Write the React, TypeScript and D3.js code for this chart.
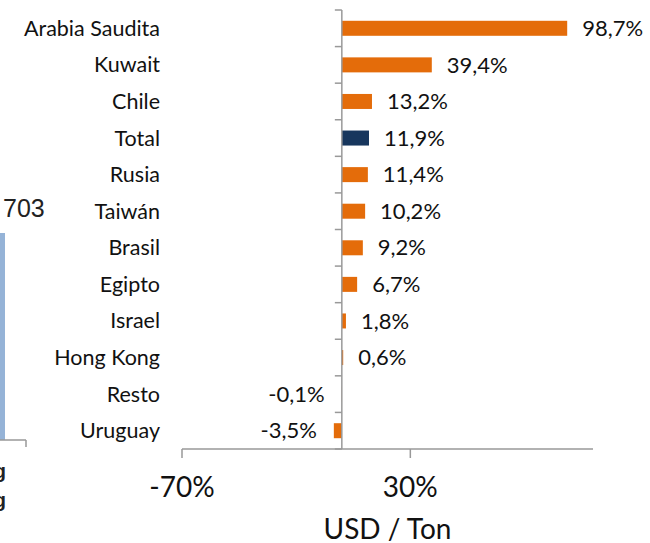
import React from "react";
import * as d3 from "d3";

const categories = ["Arabia Saudita", "Kuwait", "Chile", "Total", "Rusia", "Taiwán", "Brasil", "Egipto", "Israel", "Hong Kong", "Resto", "Uruguay"];
const values = [98.7, 39.4, 13.2, 11.9, 11.4, 10.2, 9.2, 6.7, 1.8, 0.6, -0.1, -3.5];
const highlight = ["Total"];
const xTicks = [-70, 30];
const xDomain = [-70, 110];
const axisTitle = "USD / Ton";
const fragmentLabel = "703";
const fragmentTail = ["g", "g"];

const W = 650;
const H = 543;
const FONT = "Lato, 'Open Sans', sans-serif";

export default function App() {
  const x = d3.scaleLinear().domain(xDomain).range([182, 593]);
  const y = d3.scaleBand<string>().domain(categories).range([10, 449]).padding(0);
  const step = y.step();
  const barH = step * 0.41;
  const x0 = x(0);
  const fmt = (v: number) => (v < 0 ? "-" : "") + Math.abs(v).toFixed(1).replace(".", ",") + "%";
  const axisColor = "#999999";

  return (
    <svg width={W} height={H} style={{ position: "absolute", left: 0, top: 0, background: "#fff" }}>
      {/* cropped neighbour chart fragment */}
      <text x={3} y={217} fontFamily="'Liberation Sans', sans-serif" fontSize={25} fill="#222">{fragmentLabel}</text>
      <rect x={0} y={233} width={5} height={207} fill="#95B3D7" />
      <line x1={0} x2={26} y1={440} y2={440} stroke="#999" strokeWidth={1.5} />
      <line x1={26} x2={26} y1={440} y2={447} stroke="#999" strokeWidth={1.5} />
      {fragmentTail.map((t, i) => (
        <text key={i} x={6} y={478 + i * 29} textAnchor="end" fontFamily="'Liberation Sans', sans-serif" fontWeight="bold" fontSize={20} fill="#222">{t}</text>
      ))}

      {/* bars */}
      {categories.map((c, i) => {
        const v = values[i];
        const cy = (y(c) as number) + step / 2;
        const xa = Math.min(x(v), x0);
        const w = Math.abs(x(v) - x0);
        return (
          <g key={c}>
            <rect x={xa} y={cy - barH / 2} width={w} height={barH} fill={highlight.includes(c) ? "#17365D" : "#E46C0A"} />
            <text x={v >= 0 ? x(v) + 15 : x(v) - 17} y={cy} dy="0.35em" textAnchor={v >= 0 ? "start" : "end"} fontFamily={FONT} fontSize={22} fill="#111">{fmt(v)}</text>
            <text x={160} y={cy} dy="0.35em" textAnchor="end" fontFamily={FONT} fontSize={21.5} fill="#111">{c}</text>
          </g>
        );
      })}

      {/* vertical axis */}
      <line x1={x0} x2={x0} y1={10} y2={449} stroke={axisColor} strokeWidth={1.5} />
      {d3.range(categories.length + 1).map((i) => (
        <line key={i} x1={x0 - 7} x2={x0} y1={10 + i * step} y2={10 + i * step} stroke={axisColor} strokeWidth={1.5} />
      ))}

      {/* horizontal axis */}
      <line x1={x(xDomain[0])} x2={x(xDomain[1])} y1={449} y2={449} stroke={axisColor} strokeWidth={1.5} />
      {xTicks.map((t) => (
        <g key={t}>
          <line x1={x(t)} x2={x(t)} y1={449} y2={458} stroke={axisColor} strokeWidth={1.5} />
          <text x={x(t)} y={497} textAnchor="middle" fontFamily={FONT} fontSize={28} fill="#111">{t + "%"}</text>
        </g>
      ))}
      <text x={(x(xDomain[0]) + x(xDomain[1])) / 2} y={539} textAnchor="middle" fontFamily={FONT} fontSize={28} fill="#111">{axisTitle}</text>
    </svg>
  );
}
